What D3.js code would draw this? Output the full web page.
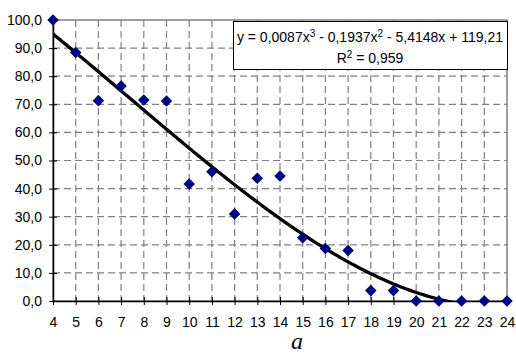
<!DOCTYPE html>
<html>
<head>
<meta charset="utf-8">
<script src="https://cdn.jsdelivr.net/npm/d3@7"></script>
<style>
  body { margin: 0; background: #fff; }
  svg { display: block; }
</style>
</head>
<body>
<svg id="chart" width="516" height="356"></svg>
<script>
(function () {
    // observed points
    const xs = [4, 5, 6, 7, 8, 9, 10, 11, 12, 13, 14, 15, 16, 17, 18, 19, 20, 21, 22, 23, 24]
    const ys = [100, 88.4, 71.3, 76.5, 71.5, 71.2, 41.6, 46.0, 31.0, 43.7, 44.5, 22.5, 18.7, 18.0, 3.7, 3.7, 0, 0, 0, 0, 0]

    // trendline coefficients, highest power first (from the label)
    const coefs = [0.0087, -0.1937, -5.4148, 119.21]
    const eqLabel = ["y = 0,0087x", "3", " - 0,1937x", "2", " - 5,4148x + 119,21"]
    const r2Label = ["R", "2", " = 0,959"]

    const xTicks = d3.range(4, 25)
    const yTicks = d3.range(0, 101, 10)

    const margin = { top: 20, right: 9, bottom: 55, left: 53 }
    const width = 516
    const height = 356

    const svg = d3.select("#chart")

    const x = d3.scaleLinear()
        .domain([4, 24])
        .range([margin.left, width - margin.right])

    const y = d3.scaleLinear()
        .domain([0, 100])
        .range([height - margin.bottom, margin.top])

    const fmt = d => d.toFixed(1).replace(".", ",")

    // plot frame (top / right grey)
    svg.append("rect")
        .attr("x", x(4))
        .attr("y", y(100))
        .attr("width", x(24) - x(4))
        .attr("height", y(0) - y(100))
        .attr("fill", "none")
        .attr("stroke", "#808080")
        .attr("stroke-width", 1.5)

    // grid
    const grid = svg.append("g")
        .attr("stroke", "#808080")
        .attr("stroke-width", 1.2)
        .attr("stroke-dasharray", "7,4")
        .attr("fill", "none")

    grid.selectAll(".hg")
        .data(yTicks.filter(d => d > 0 && d < 100))
        .join("line")
        .attr("x1", x(4))
        .attr("x2", x(24))
        .attr("y1", d => y(d))
        .attr("y2", d => y(d))

    grid.selectAll(".vg")
        .data(xTicks.filter(d => d > 4 && d < 24))
        .join("line")
        .attr("x1", d => x(d))
        .attr("x2", d => x(d))
        .attr("y1", y(100))
        .attr("y2", y(0))

    // trendline, clipped to plot area
    svg.append("clipPath")
        .attr("id", "plot-clip")
        .append("rect")
        .attr("x", x(4))
        .attr("y", y(100))
        .attr("width", x(24) - x(4))
        .attr("height", y(0) - y(100) + 1)

    const poly = t => coefs.reduce((acc, c) => acc * t + c, 0)
    const curve = d3.range(4, 24.01, 0.1).map(t => [t, poly(t)])

    svg.append("path")
        .datum(curve)
        .attr("clip-path", "url(#plot-clip)")
        .attr("fill", "none")
        .attr("stroke", "#000")
        .attr("stroke-width", 3.3)
        .attr("d", d3.line().x(d => x(d[0])).y(d => y(d[1])))

    // axes
    const xAxis = svg.append("g")
        .attr("transform", `translate(0,${y(0)})`)
        .call(d3.axisBottom(x).tickValues(xTicks).tickFormat(d3.format("d"))
            .tickSizeInner(4).tickSizeOuter(0).tickPadding(12))
    xAxis.selectAll(".tick line").attr("y1", -4)

    const yAxis = svg.append("g")
        .attr("transform", `translate(${x(4)},0)`)
        .call(d3.axisLeft(y).tickValues(yTicks).tickFormat(fmt)
            .tickSizeInner(4).tickSizeOuter(0).tickPadding(7))
    yAxis.selectAll(".tick line").attr("x1", 4)

    svg.selectAll(".domain").attr("stroke", "#000").attr("stroke-width", 1.5)
    svg.selectAll(".tick line").attr("stroke", "#000").attr("stroke-width", 1)
    svg.selectAll(".tick text")
        .attr("font-family", "Liberation Sans, Arial, sans-serif")
        .attr("font-size", 14)
        .attr("fill", "#000")

    // points
    svg.append("g")
        .selectAll("path")
        .data(xs.map((d, i) => [d, ys[i]]))
        .join("path")
        .attr("transform", d => `translate(${x(d[0])},${y(d[1])})`)
        .attr("d", d3.symbol(d3.symbolDiamond2, 85))
        .attr("fill", "#000080")

    // equation box
    const box = svg.append("g")
    box.append("rect")
        .attr("x", 233.5)
        .attr("y", 21.5)
        .attr("width", 274)
        .attr("height", 48)
        .attr("fill", "#fff")
        .attr("stroke", "#000")
        .attr("stroke-width", 1)

    function supText(parts, ty) {
        const t = box.append("text")
            .attr("x", 370)
            .attr("y", ty)
            .attr("text-anchor", "middle")
            .attr("font-family", "Liberation Sans, Arial, sans-serif")
            .attr("font-size", 14)
        parts.forEach((p, i) => {
            const sp = t.append("tspan").text(p)
            if (i % 2 === 1) sp.attr("baseline-shift", "super").attr("font-size", 10)
        })
    }
    supText(eqLabel, 42)
    supText(r2Label, 63)

    // caption
    svg.append("text")
        .attr("x", 297)
        .attr("y", 349)
        .attr("text-anchor", "middle")
        .attr("font-family", "Liberation Serif, Times New Roman, serif")
        .attr("font-style", "italic")
        .attr("font-size", 24)
        .text("a")
}).call(this);
</script>
</body>
</html>
